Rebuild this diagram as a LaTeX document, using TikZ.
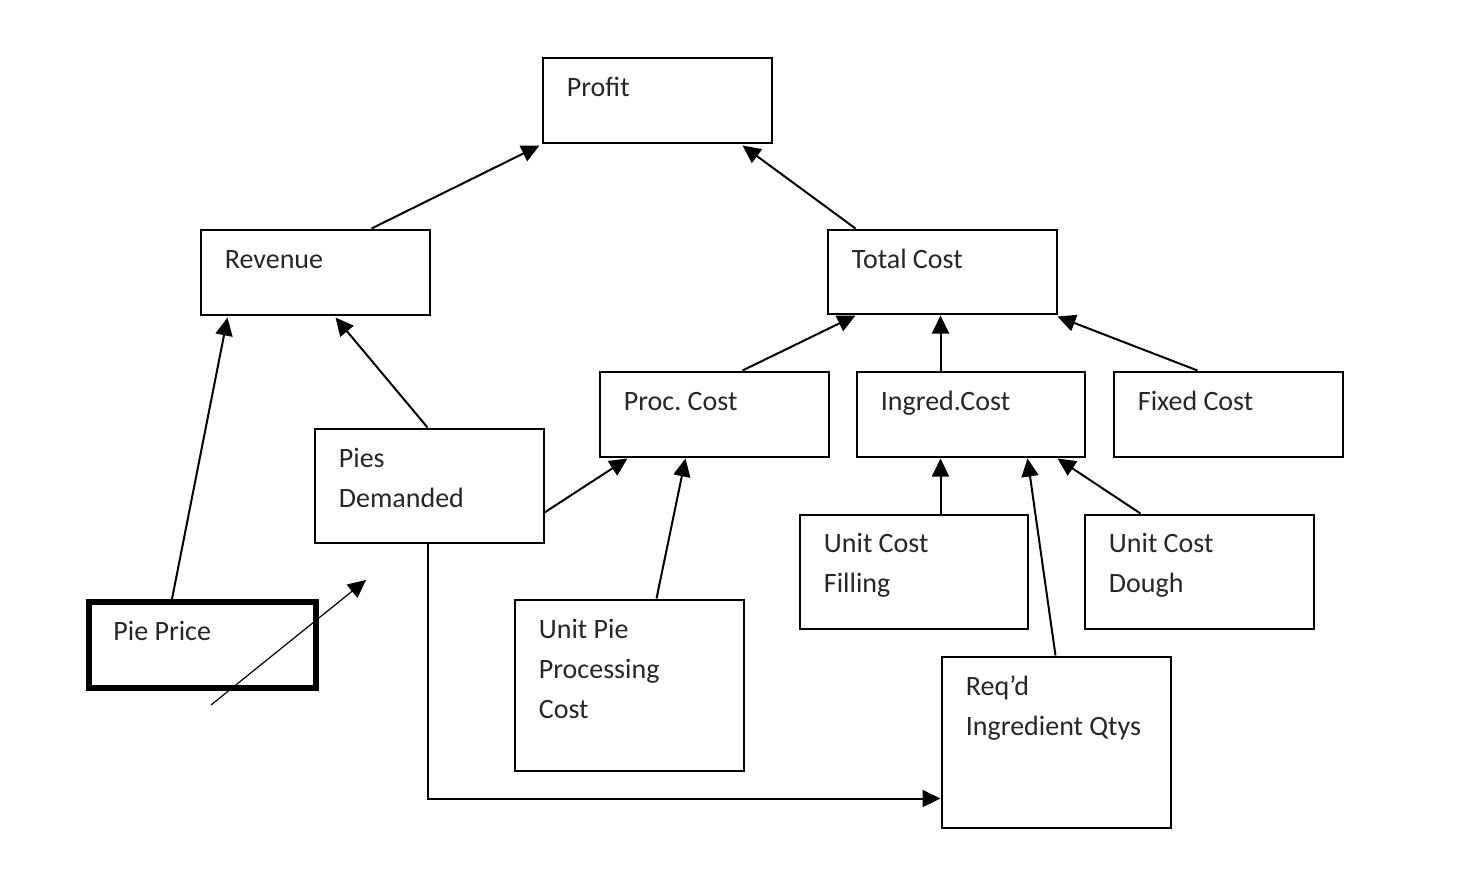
\documentclass[tikz,border=0pt]{standalone}
\usepackage{fontspec}
\setmainfont{Carlito}
\usetikzlibrary{arrows.meta,calc}
\frenchspacing
\newcommand\lines[1]{\begin{tabular}[t]{@{}l@{}}#1\end{tabular}}
\begin{document}
\begin{tikzpicture}[x=0.5pt,y=-0.5pt,
  box/.style={draw, line width=1pt, anchor=north west, inner sep=0pt, minimum width=114.5pt},
  thickbox/.style={box, line width=3.2pt},
  txt/.style={anchor=base west, inner sep=0pt, font=\fontsize{14}{20}\selectfont, text=black!85},
  conn/.style={line width=1pt, -{Triangle[length=9pt,width=8.5pt]}},
  thinconn/.style={line width=0.6pt, -{Triangle[length=9pt,width=8.5pt]}}]
\useasboundingbox[fill=white] (0,0) rectangle (1460,890);
% boxes
\node[box, minimum height=42.5pt] (profit) at (541.5,56.5) {};
\node[box, minimum height=42.5pt] (rev) at (199.5,228.5) {};
\node[box, minimum height=42pt] (tc) at (826.5,228.5) {};
\node[box, minimum height=42.5pt] (proc) at (598.5,370.5) {};
\node[box, minimum height=42.5pt, minimum width=114pt] (ingr) at (855.5,370.5) {};
\node[box, minimum height=42.5pt] (fixed) at (1112.5,370.5) {};
\node[box, minimum height=57pt] (pies) at (313.5,427.5) {};
\node[thickbox, minimum height=43pt, minimum width=113.5pt] (price) at (86,599) {};
\node[box, minimum height=57pt, minimum width=114pt] (ucf) at (798.5,513.5) {};
\node[box, minimum height=57pt] (ucd) at (1083.5,513.5) {};
\node[box, minimum height=85.5pt] (upp) at (513.5,598.5) {};
\node[box, minimum height=85.5pt] (req) at (940.5,655.5) {};
% texts
\node[txt] (profit-t) at ($(profit.north west)+(25,40)$) {Profit};
\node[txt] (rev-t) at ($(rev.north west)+(25,40)$) {Revenue};
\node[txt] (tc-t) at ($(tc.north west)+(25,40)$) {Total Cost};
\node[txt] (proc-t) at ($(proc.north west)+(25,40)$) {Proc. Cost};
\node[txt] (ingr-t) at ($(ingr.north west)+(25,40)$) {Ingred.Cost};
\node[txt] (fixed-t) at ($(fixed.north west)+(25,40)$) {Fixed Cost};
\node[txt] (pies-t) at ($(pies.north west)+(25,40)$) {\lines{Pies\\Demanded}};
\node[txt] (price-t) at ($(price.north west)+(27,41)$) {Pie Price};
\node[txt] (ucf-t) at ($(ucf.north west)+(25,39)$) {\lines{Unit Cost\\Filling}};
\node[txt] (ucd-t) at ($(ucd.north west)+(25,39)$) {\lines{Unit Cost\\Dough}};
\node[txt] (upp-t) at ($(upp.north west)+(25,40)$) {\lines{Unit Pie\\Processing\\Cost}};
\node[txt] (req-t) at ($(req.north west)+(25,40)$) {\lines{Req’d\\Ingredient Qtys}};
% connectors
\draw[conn] ($(rev.north west)+(172,0)$) -- ($(profit.south west)+(-2,2)$);
\draw[conn] ($(tc.north west)+(29,0)$) -- ($(profit.south west)+(201,2)$);
\draw[conn] ($(price.north west)+(86,0)$) -- ($(rev.south west)+(28,2)$);
\draw[conn] ($(pies.north west)+(114,0)$) -- ($(rev.south west)+(136,2)$);
\draw[conn] ($(proc.north west)+(144,0)$) -- ($(tc.south west)+(29,1)$);
\draw[conn] ($(ingr.north west)+(85,0)$) -- ($(tc.south west)+(114,1)$);
\draw[conn] ($(fixed.north west)+(85,0)$) -- ($(tc.south west)+(231,2)$);
\draw[conn] ($(pies.north east)+(0,85)$) -- ($(proc.south west)+(29,1)$);
\draw[conn] ($(upp.north west)+(143,0)$) -- ($(proc.south west)+(87,1)$);
\draw[conn] ($(ucf.north west)+(142,0)$) -- ($(ingr.south west)+(85,1)$);
\draw[conn] ($(req.north west)+(115,0)$) -- ($(ingr.south west)+(172,1)$);
\draw[conn] ($(ucd.north west)+(57,0)$) -- ($(ingr.south west)+(202,1)$);
\draw[conn] ($(pies.south west)+(114,0)$) |- ($(req.north west)+(0,143)$);
\coordinate (free-a) at (211,705);
\coordinate (free-b) at (366,580);
\draw[thinconn] (free-a) -- (free-b);
\end{tikzpicture}
\end{document}
